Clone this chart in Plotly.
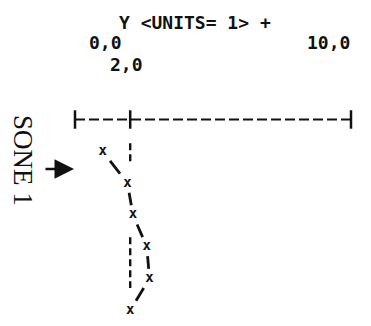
import plotly.graph_objects as go

# Profile for zone 1: one reading of Y per depth level
levels = [1, 2, 3, 4, 5, 6]
y_values = [1.0, 1.9, 2.1, 2.6, 2.7, 2.0]

# Reference value on the Y scale, shown as a broken dashed line
ref_value = 2.0
ref_spans = [(0.75, 1.35), (3.7, 5.3)]

# Horizontal Y scale along the top
axis_min, axis_max = 0.0, 10.0
tick_values = [0.0, 2.0, 10.0]
tick_labels = ["0,0", "2,0", "10,0"]
title_text = "Y &lt;UNITS= 1&gt; +"
zone_label = "SONE 1"

W, H = 371, 326
INK = "#111111"
MONO = "DejaVu Sans Mono"

# pixel geometry of the printout
x0_px, x_scale = 75.0, 27.6     # px of Y=0, px per Y unit
d0_px, d_scale = 119.5, 31.8    # px of depth 0, px per level

x_range = [-x0_px / x_scale, (W - x0_px) / x_scale]
y_range = [(H - d0_px) / d_scale, -d0_px / d_scale]

fig = go.Figure()

# dashed scale line with end and reference ticks
fig.add_trace(go.Scatter(
    x=[axis_min, axis_max], y=[0, 0], mode="lines",
    line=dict(color=INK, width=2.2, dash="10px,4px"), hoverinfo="skip"))
tx, ty = [], []
for v in tick_values:
    tx += [v, v, None]
    ty += [-0.29, 0.29, None]
fig.add_trace(go.Scatter(
    x=tx, y=ty, mode="lines", line=dict(color=INK, width=2.5), hoverinfo="skip"))

# broken dashed reference line at Y = ref_value
rx, ry = [], []
for a, b in ref_spans:
    rx += [ref_value, ref_value, None]
    ry += [a, b, None]
fig.add_trace(go.Scatter(
    x=rx, y=ry, mode="lines",
    line=dict(color=INK, width=2.4, dash="7px,4px"), hoverinfo="skip"))

# short strokes joining consecutive readings, leaving space around each mark
f = 0.3
sx, sy = [], []
for i in range(len(levels) - 1):
    xa, xb = y_values[i], y_values[i + 1]
    da, db = levels[i], levels[i + 1]
    sx += [xa + f * (xb - xa), xa + (1 - f) * (xb - xa), None]
    sy += [da + f * (db - da), da + (1 - f) * (db - da), None]
fig.add_trace(go.Scatter(
    x=sx, y=sy, mode="lines", line=dict(color=INK, width=2.8), hoverinfo="skip"))

# the readings themselves, printed as x
fig.add_trace(go.Scatter(
    x=y_values, y=levels, mode="text", text=["x"] * len(levels),
    textposition="middle center",
    textfont=dict(family=MONO, size=14, color=INK, weight="bold"),
    hoverinfo="skip"))

annotations = [
    dict(text=title_text, xref="paper", yref="paper",
         x=195 / W, y=1 - 22 / H, xanchor="center", yanchor="middle",
         showarrow=False, font=dict(family=MONO, size=18, color=INK, weight="bold")),
    dict(text=tick_labels[0], xref="x", yref="paper", x=tick_values[0], xshift=12,
         y=1 - 42 / H, xanchor="left", yanchor="middle",
         showarrow=False, font=dict(family=MONO, size=18, color=INK, weight="bold")),
    dict(text=tick_labels[2], xref="x", yref="paper", x=tick_values[2], xshift=1,
         y=1 - 42 / H, xanchor="right", yanchor="middle",
         showarrow=False, font=dict(family=MONO, size=18, color=INK, weight="bold")),
    dict(text=tick_labels[1], xref="x", yref="paper", x=tick_values[1], xshift=-4,
         y=1 - 65 / H, xanchor="center", yanchor="middle",
         showarrow=False, font=dict(family=MONO, size=18, color=INK, weight="bold")),
    dict(text=zone_label, xref="paper", yref="paper",
         x=23 / W, y=1 - 160 / H, xanchor="center", yanchor="middle", textangle=90,
         showarrow=False, font=dict(family="Liberation Serif", size=27, color=INK)),
    # pointer towards the top of the profile
    dict(text="", xref="paper", yref="paper", x=74 / W, y=1 - 169 / H,
         ax=-30, ay=0, showarrow=True, arrowhead=2, arrowsize=1.5,
         arrowwidth=2.6, arrowcolor=INK),
]

fig.update_layout(
    width=W, height=H,
    margin=dict(l=0, r=0, t=0, b=0),
    paper_bgcolor="white", plot_bgcolor="white",
    showlegend=False,
    xaxis=dict(range=x_range, visible=False, fixedrange=True),
    yaxis=dict(range=y_range, visible=False, fixedrange=True),
    annotations=annotations,
)

fig.write_html("out.html", config={"displayModeBar": False})
